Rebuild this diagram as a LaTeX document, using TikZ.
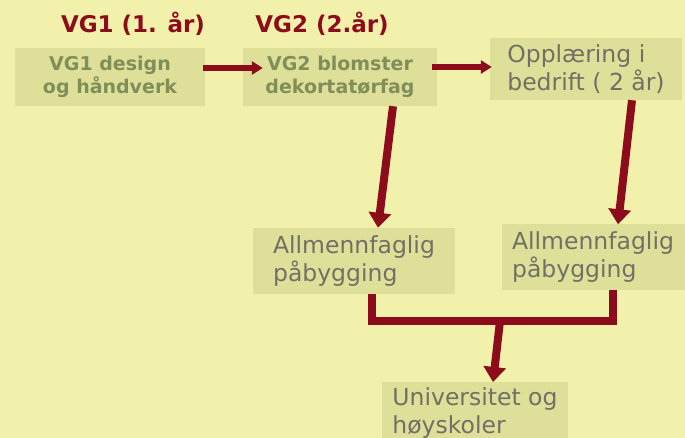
\documentclass[tikz,border=0pt]{standalone}
\usepackage{fontspec}
\setmainfont{DejaVu Sans}
\usetikzlibrary{positioning,arrows.meta}
\definecolor{bgyellow}{RGB}{241,241,172}
\definecolor{boxfill}{RGB}{222,224,154}
\definecolor{olivetext}{RGB}{128,142,88}
\definecolor{graytext}{RGB}{112,112,100}
\definecolor{darkred}{RGB}{140,12,28}

\tikzset{
  title/.style={font=\bfseries\fontsize{23}{26}\selectfont, text=darkred},
  topbox/.style={fill=boxfill, minimum width=#1, minimum height=58pt, align=center,
    font=\bfseries\fontsize{19}{23}\selectfont, text=olivetext},
  plainbox/.style={fill=boxfill, minimum width=#1, align=left,
    font=\fontsize{23.5}{27.5}\selectfont, text=graytext},
  flow/.style={draw=darkred, line width=6.5pt, -{Triangle[length=11pt,width=13pt]}},
  down/.style={draw=darkred, line width=8pt, -{Triangle[length=15pt,width=22pt]}},
}

\begin{document}
\begin{tikzpicture}[x=1pt,y=-1pt]
    \fill[bgyellow] (0,0) rectangle (685,438);
    \useasboundingbox (0,0) rectangle (685,438);

    \node[title] (t1) at (133,24) {VG1 (1. år)};
    \node[title] (t2) at (322,24) {VG2 (2.år)};

    \node[topbox=190pt] (b1) at (110,77) {VG1 design\\og håndverk};
    \node[topbox=194pt] (b2) at (340,77) {VG2 blomster\\dekortatørfag};
    \node[plainbox=192pt, minimum height=62pt] (b3) at (586,69) {Opplæring i\\bedrift ( 2 år)};
    \node[plainbox=202pt, minimum height=66pt] (b4) at (354,261) {Allmennfaglig\\påbygging};
    \node[plainbox=183pt, minimum height=65pt] (b5) at (593,257) {Allmennfaglig\\påbygging};
    \node[plainbox=186pt, minimum height=62pt, inner ysep=2pt, anchor=north] (b6) at (475,382) {Universitet og\\høyskoler};
    \coordinate (join) at (500,317);

    % left to right arrows
    \draw[flow] ([xshift=-2pt,yshift=9pt]b1.east) -- ([xshift=20pt,yshift=9pt]b2.west);
    \draw[flow] ([xshift=-5pt,yshift=10pt]b2.east) -- ([xshift=2pt,yshift=2pt]b3.west);

    % up to down arrows
    \draw[down] ([xshift=53pt]b2.south) -- ([xshift=24pt]b4.north);
    \draw[down] ([xshift=46pt]b3.south) -- ([xshift=25pt]b5.north);

    % both paths join
    \draw[darkred, line width=8pt, line join=miter] ([xshift=18pt]b4.south) -- ++(0,27) -| ([xshift=20pt]b5.south);
    \draw[down] ([yshift=-4pt]join) -- ([xshift=18pt]b6.north);
\end{tikzpicture}
\end{document}
